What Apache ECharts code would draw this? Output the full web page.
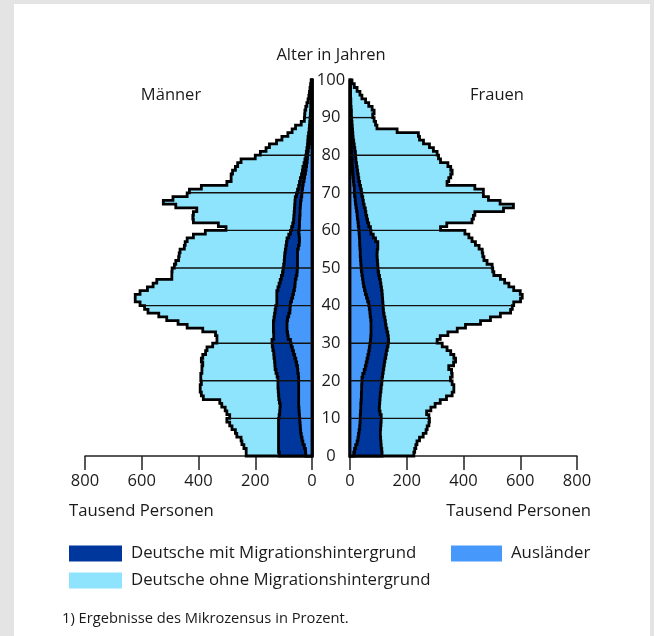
<!DOCTYPE html>
<html><head><meta charset="utf-8">
<script src="https://cdn.jsdelivr.net/npm/echarts@6/dist/echarts.min.js"></script>
<style>
html,body{margin:0;padding:0;background:#e4e4e4;}
#panel{position:absolute;left:14px;top:4px;width:636px;height:632px;background:#fff;}
#chart{position:absolute;left:0;top:0;width:654px;height:636px;}
</style></head>
<body><div id="panel"></div><div id="chart"></div>
<script>
// Age groups 0..99 (each bar covers [age, age+1])
const ages = Array.from({length: 100}, (_, i) => i);
const xTicks = [0, 200, 400, 600, 800];
const yTicks = [0,10,20,30,40,50,60,70,80,90,100];

// Männer, Tausend Personen
const menAuslaender = [22,23,27,32,35,38,40,41,42,43,44,45,46,47,47,47,47,47,47,47,47,48,50,51,54,57,61,65,69,73,76,84,86,88,88,88,86,82,78,77,76,72,68,65,62,60,59,56,53,52,51,51,51,51,51,48,45,44,45,47,45,44,44,43,42,42,41,40,38,36,35,33,31,28,26,23,21,19,17,16,15,13,11,10,8,7,6,6,5,5,4,4,3,3,3,2,2,2,1,1];
const menMit = [93,95,91,86,83,80,78,77,76,75,72,69,67,65,68,70,71,72,73,73,73,75,77,79,77,75,73,70,69,67,65,51,49,48,48,48,48,50,52,51,48,52,56,59,58,56,53,52,51,50,49,47,46,45,43,44,45,44,37,29,27,24,21,21,21,20,20,20,21,19,16,14,13,13,11,11,11,9,8,6,5,5,5,5,6,5,4,3,3,2,2,1,1,1,0,1,0,0,0,0];
const menOhne = [117,114,122,129,132,147,152,164,172,182,174,186,193,206,210,266,272,275,274,270,272,269,261,258,254,258,251,240,232,210,194,200,205,249,304,336,378,408,448,462,482,499,499,482,460,444,435,386,390,391,385,382,373,372,371,358,357,352,336,300,231,262,353,356,355,344,419,464,431,385,381,343,256,244,248,246,238,234,225,178,162,144,134,110,92,73,60,49,30,20,20,20,18,14,11,8,7,5,4,2];

// Frauen, Tausend Personen
const womenAuslaender = [13,16,20,25,28,30,32,34,35,36,36,37,38,38,39,40,40,41,41,42,42,45,50,54,57,60,63,66,68,70,72,73,74,74,74,74,73,71,70,68,66,62,58,54,51,48,46,44,42,40,39,38,37,36,36,35,34,34,33,32,31,29,28,26,25,23,21,19,18,16,15,15,13,12,11,10,9,8,8,7,6,5,5,4,4,3,3,3,2,2,2,2,2,1,1,1,1,1,1,0];
const womenMit = [100,96,90,84,80,77,75,74,74,74,74,69,65,66,66,66,67,68,69,70,71,70,67,65,64,63,63,62,63,64,64,62,59,56,53,51,50,49,48,49,50,53,56,59,60,61,61,60,59,59,59,59,59,59,60,63,64,56,49,42,41,37,34,33,31,31,29,28,27,26,25,22,21,19,18,17,16,15,13,13,13,12,10,9,7,7,6,5,5,4,3,3,2,2,2,1,1,1,0,1];
const womenOhne = [112,116,122,127,137,151,161,164,169,170,168,164,182,196,213,234,253,257,256,248,241,245,241,229,244,249,240,227,211,191,171,183,212,248,280,335,372,410,448,455,461,486,493,487,466,451,438,426,406,404,403,386,376,373,370,357,344,340,337,331,247,275,368,376,384,487,526,482,443,428,430,403,308,317,326,333,330,322,298,292,288,277,265,246,234,231,157,87,83,79,75,80,74,63,52,40,33,23,14,6];

const C = { ohne: '#8fe4fd', mit: '#00379c', aus: '#4699fb', line: '#000' };
const NAME_MIT = 'Deutsche mit Migrationshintergrund';
const NAME_OHNE = 'Deutsche ohne Migrationshintergrund';
const NAME_AUS = 'Ausländer';
const FONT = '"Open Sans", "Noto Sans", sans-serif';
const TXT = '#1a1a1a';

function cumulate() {
  const arrs = Array.from(arguments);
  return ages.map((a, i) => arrs.reduce((s, arr) => s + arr[i], 0));
}

function layerSeries(name, vals, color, gridIdx) {
  return {
    type: 'custom', name: name, xAxisIndex: gridIdx, yAxisIndex: gridIdx,
    coordinateSystem: 'cartesian2d', clip: false, silent: true,
    itemStyle: { color: color },
    data: [[0, 0]],
    renderItem: function (params, api) {
      const pts = [api.coord([0, 0])];
      ages.forEach((a, i) => {
        pts.push(api.coord([vals[i], a]));
        pts.push(api.coord([vals[i], a + 1]));
      });
      pts.push(api.coord([0, 100]));
      return {
        type: 'polygon', shape: { points: pts },
        style: { fill: color, stroke: C.line, lineWidth: 2.8, lineJoin: 'miter' }
      };
    }
  };
}

function gridLineSeries(total, gridIdx) {
  return {
    type: 'custom', xAxisIndex: gridIdx, yAxisIndex: gridIdx,
    coordinateSystem: 'cartesian2d', clip: false, silent: true, z: 5,
    data: [[0, 0]],
    renderItem: function (params, api) {
      const children = [];
      yTicks.filter(t => t > 0 && t < 100).forEach(t => {
        const v = Math.min(total[t - 1], total[t]);
        const p0 = api.coord([0, t]), p1 = api.coord([v, t]);
        children.push({ type: 'line', shape: { x1: p0[0], y1: p0[1], x2: p1[0], y2: p1[1] },
          style: { stroke: '#111', lineWidth: 1.4 } });
      });
      return { type: 'group', children: children };
    }
  };
}

const menA = cumulate(menAuslaender);
const menD = cumulate(menAuslaender, menMit);
const menT = cumulate(menAuslaender, menMit, menOhne);
const wA = cumulate(womenAuslaender);
const wD = cumulate(womenAuslaender, womenMit);
const wT = cumulate(womenAuslaender, womenMit, womenOhne);

const xAxisBase = {
  type: 'value', min: 0, max: 800, interval: 200,
  axisLine: { show: true, onZero: false, lineStyle: { color: '#222', width: 1.5 } },
  axisTick: { show: true, length: 14, lineStyle: { color: '#222', width: 1.5 } },
  axisLabel: { color: TXT, fontSize: 16.5, fontFamily: FONT, margin: 17 },
  splitLine: { show: false }
};

const legendBase = {
  padding: 0, itemWidth: 53, itemHeight: 16, selectedMode: false,
  icon: 'rect', itemStyle: { borderWidth: 0 },
  textStyle: { fontSize: 16.8, color: TXT, fontFamily: FONT, padding: [0, 0, 0, 4] }
};

const chart = echarts.init(document.getElementById('chart'), null, { renderer: 'canvas' });
chart.setOption({
  animation: false,
  backgroundColor: 'transparent',
  grid: [
    { left: 85, width: 227, top: 80, height: 376 },
    { left: 350, width: 227, top: 80, height: 376 }
  ],
  xAxis: [
    Object.assign({}, xAxisBase, { gridIndex: 0, inverse: true }),
    Object.assign({}, xAxisBase, { gridIndex: 1 })
  ],
  yAxis: [
    { type: 'value', gridIndex: 0, min: 0, max: 100, interval: 10, position: 'right',
      axisLine: { show: true, onZero: false, lineStyle: { color: '#000', width: 2.5 } },
      axisTick: { show: false }, axisLabel: { show: false }, splitLine: { show: false } },
    { type: 'value', gridIndex: 1, min: 0, max: 100, interval: 10, position: 'left',
      axisLine: { show: true, onZero: false, lineStyle: { color: '#000', width: 2.5 } },
      axisTick: { show: false }, splitLine: { show: false },
      axisLabel: { show: true, color: TXT, fontSize: 16.5, fontFamily: FONT, margin: 19,
        align: 'center', padding: [0, 0, 4, 0] } }
  ],
  legend: [
    Object.assign({}, legendBase, { data: [NAME_MIT], left: 69, top: 545 }),
    Object.assign({}, legendBase, { data: [NAME_AUS], left: 451, top: 545, itemWidth: 51 }),
    Object.assign({}, legendBase, { data: [NAME_OHNE], left: 69, top: 572 })
  ],
  graphic: [
    { type: 'text', x: 331, y: 55, style: { text: 'Alter in Jahren', font: '16.5px ' + FONT, fill: TXT, align: 'center', verticalAlign: 'middle' } },
    { type: 'text', x: 171, y: 95, style: { text: 'Männer', font: '16.5px ' + FONT, fill: TXT, align: 'center', verticalAlign: 'middle' } },
    { type: 'text', x: 497, y: 95, style: { text: 'Frauen', font: '16.5px ' + FONT, fill: TXT, align: 'center', verticalAlign: 'middle' } },
    { type: 'text', x: 69, y: 511, style: { text: 'Tausend Personen', font: '16.7px ' + FONT, fill: TXT, align: 'left', verticalAlign: 'middle' } },
    { type: 'text', x: 591, y: 511, style: { text: 'Tausend Personen', font: '16.7px ' + FONT, fill: TXT, align: 'right', verticalAlign: 'middle' } },
    { type: 'text', x: 62, y: 619, style: { text: '1) Ergebnisse des Mikrozensus in Prozent.', font: '14.7px ' + FONT, fill: TXT, align: 'left', verticalAlign: 'middle' } }
  ],
  series: [
    layerSeries(NAME_OHNE, menT, C.ohne, 0),
    layerSeries(NAME_MIT, menD, C.mit, 0),
    layerSeries(NAME_AUS, menA, C.aus, 0),
    gridLineSeries(menT, 0),
    layerSeries(NAME_OHNE, wT, C.ohne, 1),
    layerSeries(NAME_MIT, wD, C.mit, 1),
    layerSeries(NAME_AUS, wA, C.aus, 1),
    gridLineSeries(wT, 1)
  ]
});
</script>
</body></html>
